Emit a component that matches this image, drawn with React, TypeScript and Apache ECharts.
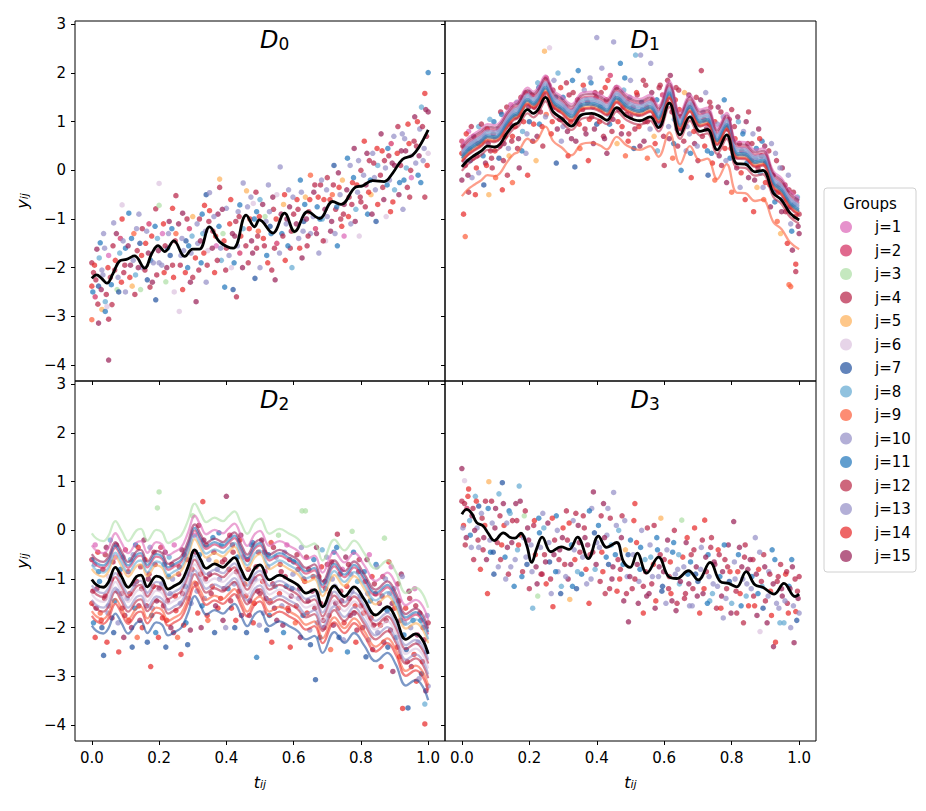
import React, { useEffect, useRef } from "react";
import * as echarts from "echarts";

const FONT = "DejaVu Sans";
const GROUP_LABELS = ["j=1","j=2","j=3","j=4","j=5","j=6","j=7","j=8","j=9","j=10","j=11","j=12","j=13","j=14","j=15"];
const GROUP_COLORS = ["#dd68b8","#d42f62","#aedfa6","#b8264a","#fdb15b","#dcc4df","#2554a1","#65aad3","#fc5f3d","#9590c8","#2478bd","#bb2b4a","#9590c8","#e72b2b","#9a2259"];
const X_TICKS = [0, 0.2, 0.4, 0.6, 0.8, 1.0];
const Y_TICKS = [-4, -3, -2, -1, 0, 1, 2, 3];
const PANEL_SUBS = ["0", "1", "2", "3"];

// black mean curves [t, y]
const D0_MEAN = [[0,-2.22],[0.014,-2.15],[0.029,-2.22],[0.045,-2.32],[0.063,-2.12],[0.083,-1.86],[0.103,-1.83],[0.127,-1.76],[0.157,-2.01],[0.179,-1.7],[0.197,-1.55],[0.217,-1.67],[0.244,-1.45],[0.276,-1.77],[0.3,-1.62],[0.32,-1.62],[0.35,-1.16],[0.38,-1.47],[0.42,-1.6],[0.459,-0.92],[0.484,-1.16],[0.498,-1.02],[0.538,-1.29],[0.573,-0.88],[0.603,-1.26],[0.642,-0.85],[0.677,-0.99],[0.716,-0.64],[0.741,-0.7],[0.785,-0.34],[0.805,-0.32],[0.835,-0.21],[0.869,-0.23],[0.894,-0.06],[0.924,0.23],[0.953,0.31],[0.973,0.48],[1,0.83]];
const D1_MEAN = [[0,0.07],[0.018,0.21],[0.038,0.31],[0.058,0.4],[0.076,0.5],[0.098,0.48],[0.113,0.54],[0.133,0.76],[0.153,0.93],[0.167,0.98],[0.195,1.25],[0.212,1.17],[0.226,1.25],[0.248,1.5],[0.271,1.2],[0.296,1.07],[0.325,0.91],[0.355,1.14],[0.385,1.17],[0.41,1.11],[0.43,1.03],[0.459,1.29],[0.489,1.11],[0.528,1.02],[0.558,1.1],[0.583,0.88],[0.615,1.38],[0.647,0.73],[0.676,1.1],[0.706,0.8],[0.728,0.84],[0.757,0.42],[0.785,0.73],[0.815,0.14],[0.84,0.13],[0.869,-0.03],[0.892,0],[0.924,-0.47],[0.948,-0.61],[0.973,-0.88],[1,-1.02]];
const D2_MEAN = [[0,-1.01],[0.014,-1.12],[0.034,-1.17],[0.049,-1.07],[0.07,-0.76],[0.088,-0.95],[0.108,-1.17],[0.133,-0.95],[0.146,-0.92],[0.165,-1.16],[0.192,-0.94],[0.209,-0.99],[0.227,-1.21],[0.246,-1.14],[0.266,-1.05],[0.286,-0.75],[0.306,-0.4],[0.324,-0.61],[0.34,-0.78],[0.365,-0.69],[0.39,-0.76],[0.405,-0.67],[0.424,-0.56],[0.444,-0.81],[0.462,-1.02],[0.484,-0.78],[0.5,-0.71],[0.528,-1.02],[0.558,-0.92],[0.587,-1.02],[0.612,-1.12],[0.637,-1.29],[0.662,-1.22],[0.686,-1.57],[0.721,-1.14],[0.751,-1.36],[0.78,-1.16],[0.81,-1.42],[0.844,-1.74],[0.879,-1.57],[0.904,-1.81],[0.934,-2.24],[0.963,-2.13],[0.983,-2.25],[1,-2.54]];
const D3_MEAN = [[0,0.33],[0.014,0.43],[0.029,0.35],[0.044,0.16],[0.063,0.09],[0.078,-0.06],[0.096,-0.21],[0.123,-0.05],[0.142,-0.14],[0.157,-0.16],[0.175,-0.06],[0.192,-0.3],[0.207,-0.66],[0.222,-0.37],[0.238,-0.14],[0.264,-0.44],[0.294,-0.34],[0.318,-0.39],[0.343,-0.14],[0.375,-0.58],[0.405,-0.12],[0.429,-0.35],[0.459,-0.25],[0.479,-0.64],[0.499,-0.76],[0.52,-0.47],[0.548,-0.88],[0.583,-0.55],[0.613,-0.95],[0.637,-0.99],[0.672,-0.83],[0.701,-1.02],[0.736,-0.66],[0.766,-1.05],[0.791,-1.09],[0.815,-1.16],[0.843,-0.85],[0.869,-1.12],[0.892,-1.17],[0.926,-1.31],[0.955,-1.09],[0.988,-1.36],[1,-1.31]];

// group offsets from the mean curve (j=1..15)
const D1_OFFSETS = [0.45, 0.35, 0.2, 0.1, 0.15, 0.3, 0.18, 0.28, -0.6, 0.25, 0.22, -0.08, 0.32, 0.12, 0.4];
const D2_OFFSETS = [0.7, 0.4, 0.95, -0.2, 0.22, -0.3, -0.95, 0.3, -0.65, -0.12, 0.45, -0.5, -0.42, -0.75, 0.52];

// scatter points [t, y, group index]
const D0_POINTS = [[0,-1.9,3],[0,-2.38,13],[0,-3.07,8],[0.005,-2.1,11],[0.01,-2.6,1],[0.015,-1.62,14],[0.02,-2.38,6],[0.02,-3.14,14],[0.025,-1.49,10],[0.03,-2.86,4],[0.03,-2.05,9],[0.035,-1.3,12],[0.04,-2.7,7],[0.04,-2.9,10],[0.045,-2.8,5],[0.05,-3.06,3],[0.05,-3.9,14],[0.05,-1.75,0],[0.055,-2.2,11],
[0.06,-2.76,11],[0.065,-1.08,12],[0.07,-1.85,13],[0.075,-2.45,2],[0.08,-2.5,6],[0.085,-1.4,1],[0.09,-0.71,5],[0.09,-1,13],[0.095,-2.1,3],[0.1,-1.6,10],[0.1,-2.5,12],
[0.11,-0.88,10],[0.115,-1.95,14],[0.12,-2.38,4],[0.125,-1.3,8],[0.13,-2.15,7],[0.135,-1.65,11],[0.14,-0.9,12],[0.145,-2.45,2],[0.15,-1.2,3],[0.15,-2,9],
[0.16,-1.5,13],[0.165,-2.25,6],[0.17,-1.1,1],[0.175,-1.85,10],[0.18,-2.3,14],[0.19,-0.79,3],[0.19,-2.66,6],[0.195,-1.4,7],[0.2,-0.27,5],[0.2,-0.72,2],[0.2,-1.9,12],
[0.21,-1.3,0],[0.215,-2.1,13],[0.22,-2.29,2],[0.225,-1.6,10],[0.23,-1.05,14],[0.24,-0.78,13],[0.24,-1.95,11],[0.245,-2.5,5],[0.25,-0.52,3],[0.25,-1.3,8],
[0.26,-2.9,5],[0.265,-1.75,9],[0.27,-0.88,14],[0.27,-2.45,13],[0.28,-1.45,6],[0.285,-2,10],[0.29,-1.2,1],[0.295,-1.7,12],[0.3,-2.2,11],[0.3,-0.95,4],
[0.31,-2.7,14],[0.315,-1.5,9],[0.32,-1,3],[0.325,-1.9,10],[0.33,-1.3,7],[0.335,-0.72,13],[0.34,-0.5,6],[0.34,-2.3,12],[0.345,-1.65,5],[0.35,-0.83,13],[0.35,-0.46,9],
[0.36,-1.25,11],[0.365,-2.1,13],[0.37,-1.55,0],[0.375,-0.9,14],[0.38,-0.18,4],[0.38,-0.35,3],[0.385,-1.85,7],[0.39,-1.3,2],[0.395,-2.4,10],[0.4,-0.78,9],[0.4,-1.6,11],
[0.41,-1.1,13],[0.415,-2,5],[0.42,-2.45,6],[0.425,-1.35,14],[0.43,-2.6,3],[0.435,-0.85,12],[0.44,-0.71,10],[0.44,-1.7,1],[0.45,-0.26,9],[0.45,-1.2,7],
[0.46,-0.42,4],[0.465,-1.9,11],[0.47,-1,13],[0.475,-1.45,14],[0.48,-0.68,5],[0.485,-2.22,6],[0.49,-0.85,10],[0.49,-1.6,3],[0.495,-1.25,8],[0.5,-2,12],[0.5,-0.6,7],
[0.51,-1.4,13],[0.515,-0.95,2],[0.52,-1.75,10],[0.525,-0.3,9],[0.53,-1.15,6],[0.535,-2.05,3],[0.54,-0.8,11],[0.545,-2.25,14],[0.55,-1.5,1],[0.55,-0.5,5],
[0.56,0.07,9],[0.565,-1.3,10],[0.57,-0.7,4],[0.575,-1.85,13],[0.58,-1,14],[0.585,-0.4,12],[0.59,-1.6,11],[0.595,-2,7],[0.6,-0.9,3],[0.6,-1.25,2],
[0.61,-0.6,13],[0.615,-1.4,9],[0.62,-0.2,10],[0.625,-1.8,14],[0.63,-1.05,6],[0.635,-0.55,4],[0.64,-1.55,3],[0.645,-0.85,11],[0.65,-0.1,8],[0.65,-1.3,12],
[0.66,-0.45,14],[0.665,-1.2,1],[0.67,-0.75,10],[0.675,-1.7,9],[0.68,-0.3,3],[0.685,-1,7],[0.69,-0.6,13],[0.695,-1.45,5],[0.7,-0.15,11],[0.7,-0.95,12],
[0.71,-1.25,14],[0.715,-0.5,8],[0.72,0.1,6],[0.725,-0.8,3],[0.73,-1.55,10],[0.735,-0.35,13],[0.74,-1,11],[0.745,-0.2,4],[0.75,-0.7,14],[0.75,-1.35,0],
[0.76,0.25,10],[0.765,-0.55,3],[0.77,-1.1,12],[0.775,-0.25,13],[0.78,0.45,14],[0.785,-0.8,7],[0.79,-0.45,9],[0.795,-1.35,5],[0.8,0,11],[0.8,-0.65,3],
[0.81,0.6,13],[0.815,-0.3,14],[0.82,-0.9,10],[0.825,0.2,3],[0.83,-0.5,4],[0.835,0.35,12],[0.84,-0.15,9],[0.845,-1.05,6],[0.85,0.1,7],[0.85,-0.7,13],
[0.86,0.75,14],[0.865,-0.35,11],[0.87,0.2,3],[0.875,-0.95,5],[0.88,0.45,10],[0.885,-0.2,12],[0.89,0.55,1],[0.895,-0.65,13],[0.9,0.1,14],[0.9,-0.4,7],
[0.91,0.9,3],[0.915,-0.25,10],[0.92,0.4,14],[0.925,-0.8,12],[0.93,0.65,9],[0.935,0.05,7],[0.94,0.95,13],[0.945,-0.55,11],[0.95,0.3,5],[0.95,-0.15,0],
[0.96,1.1,14],[0.965,0.5,3],[0.97,-0.1,10],[0.975,0.85,12],[0.98,1.3,7],[0.985,0.2,9],[0.99,1.58,13],[0.99,-0.55,11],[0.995,0.7,3],[1,2.01,10],[1,1.2,14],[1,0.35,5],
[0.003,-2.5,10],[0.008,-1.95,13],[0.012,-2.25,3],[0.018,-2.75,11],[0.022,-1.8,7],[0.028,-2.45,14],[0.033,-2.15,12],[0.038,-1.6,9],[0.043,-2.55,3],[0.048,-2,13],
[0.058,-2.35,10],[0.063,-1.55,3],[0.068,-2.05,11],[0.073,-1.3,14],[0.078,-2.2,12],[0.083,-1.7,7],[0.088,-2.3,13],[0.093,-1.45,9],[0.098,-1.95,3],
[0.108,-1.55,14],[0.113,-2.2,13],[0.118,-1.4,10],[0.123,-1.85,12],[0.128,-2.55,3],[0.133,-1.2,9],[0.138,-2,14],[0.143,-1.5,6],[0.148,-1.75,13],
[0.158,-2.05,3],[0.163,-1.25,12],[0.168,-1.7,14],[0.173,-2.4,11],[0.178,-1.35,13],[0.183,-1.9,9],[0.188,-1.15,10],[0.193,-2.15,3],[0.198,-1.65,14],
[0.208,-1.95,12],[0.213,-1.1,13],[0.218,-1.55,3],[0.223,-2,14],[0.228,-1.3,9],[0.233,-1.75,6],[0.238,-1.2,10],[0.243,-2.2,13],[0.248,-1.45,11],
[0.258,-1.1,14],[0.263,-1.95,3],[0.268,-1.4,12],[0.273,-1.65,9],[0.278,-2.1,13],[0.283,-1,3],[0.288,-1.55,10],[0.293,-2.3,14],[0.298,-1.35,7],
[0.308,-1.8,13],[0.313,-1.1,12],[0.318,-2.05,3],[0.323,-1.45,14],[0.328,-0.9,10],[0.333,-1.7,13],[0.338,-1.25,9],[0.343,-1.95,11],[0.348,-1.05,3],
[0.358,-1.6,14],[0.363,-0.95,12],[0.368,-1.35,13],[0.373,-1.85,3],[0.378,-1.15,10],[0.383,-1.6,9],[0.388,-0.8,14],[0.393,-1.45,13],[0.398,-2.05,3],
[0.408,-1.75,12],[0.413,-0.6,13],[0.418,-1.3,14],[0.423,-1.9,10],[0.428,-1.05,3],[0.433,-1.55,9],[0.438,-0.95,11],[0.443,-1.35,13],[0.448,-2,14],
[0.458,-1.55,3],[0.463,-0.75,12],[0.468,-1.2,13],[0.473,-0.55,9],[0.478,-1.7,14],[0.483,-1,10],[0.488,-0.45,3],[0.493,-1.35,11],[0.498,-0.95,13],
[0.508,-0.7,14],[0.513,-1.55,3],[0.518,-1.05,12],[0.523,-1.9,13],[0.528,-0.85,9],[0.533,-1.3,10],[0.538,-0.55,14],[0.543,-1.6,3],[0.548,-1,13],
[0.558,-1.7,12],[0.563,-0.9,14],[0.568,-1.35,3],[0.573,-0.5,13],[0.578,-1.1,9],[0.583,-1.55,10],[0.588,-0.75,14],[0.593,-1.25,3],[0.598,-0.55,12],
[0.608,-1.1,14],[0.613,-0.8,3],[0.618,-1.6,13],[0.623,-0.45,12],[0.628,-1.25,9],[0.633,-0.7,10],[0.638,-1,14],[0.643,-1.35,3],[0.648,-0.6,13],
[0.658,-0.95,12],[0.663,-0.3,3],[0.668,-1.3,14],[0.673,-0.55,13],[0.678,-1,10],[0.683,-0.2,9],[0.688,-1.45,3],[0.693,-0.8,14],[0.698,-0.4,12],
[0.708,-0.6,13],[0.713,-1.05,14],[0.718,-0.3,3],[0.723,-1.3,12],[0.728,-0.75,10],[0.733,-0.05,14],[0.738,-0.5,9],[0.743,-1.15,13],[0.748,-0.9,3],
[0.758,-0.4,14],[0.763,-0.95,13],[0.768,0.1,12],[0.773,-0.7,3],[0.778,-0.15,10],[0.783,-1.05,14],[0.788,-0.3,13],[0.793,0.2,9],[0.798,-0.55,3],
[0.808,-0.1,12],[0.813,-0.75,3],[0.818,0.35,14],[0.823,-0.45,13],[0.828,-0.2,10],[0.833,-0.9,14],[0.838,0.15,3],[0.843,-0.4,12],[0.848,0.45,13],
[0.858,-0.1,3],[0.863,0.4,13],[0.868,-0.6,14],[0.873,0.05,12],[0.878,-0.3,10],[0.883,0.3,3],[0.888,-0.85,13],[0.893,0.15,14],[0.898,0.7,9],
[0.908,0.35,13],[0.913,-0.5,14],[0.918,0.1,3],[0.923,0.75,12],[0.928,-0.2,10],[0.933,0.4,14],[0.938,-0.35,3],[0.943,0.55,13],[0.948,0,11],
[0.958,0.6,3],[0.963,0.15,12],[0.968,1,13],[0.973,0.3,14],[0.978,-0.25,10],[0.983,0.9,3],[0.988,0.45,12],[0.993,1.25,14],[0.997,0.1,13]];

const D1_POINTS = [[0,0.35,13],[0,-0.2,14],[0,0.6,1],[0.005,-0.9,13],[0.01,-1.36,8],[0.01,0.1,3],[0.015,0.45,10],[0.02,-0.45,11],[0.02,0.8,0],[0.025,0.2,6],[0.03,-0.15,12],[0.03,0.55,7],[0.035,0.7,14],[0.04,-0.5,13],[0.045,0.3,3],[0.05,0.9,7],[0.05,-0.05,9],
[0.06,0.6,1],[0.065,-0.3,6],[0.07,0.15,14],[0.075,0.85,13],[0.08,-0.5,4],[0.085,0.4,11],[0.09,0.05,3],[0.095,1,10],[0.1,-0.15,8],[0.1,0.65,12],
[0.11,0.25,6],[0.115,1.2,3],[0.12,-0.4,13],[0.125,0.55,14],[0.13,0.9,7],[0.135,-0.1,11],[0.14,0.3,4],[0.145,1.35,0],[0.15,0.7,13],[0.15,-0.25,8],
[0.16,1.1,10],[0.165,0.45,3],[0.17,0.05,14],[0.175,1.5,11],[0.18,0.8,7],[0.185,1.25,2],[0.19,0.35,12],[0.195,-0.1,13],[0.2,1,6],[0.2,1.6,9],
[0.21,0.6,14],[0.215,1.3,3],[0.22,0.2,4],[0.225,1.8,7],[0.23,0.95,10],[0.235,1.45,13],[0.24,0.5,11],[0.245,2.45,4],[0.25,1.9,1],[0.25,1.15,8],
[0.26,2.52,5],[0.265,0.75,13],[0.27,1.65,11],[0.275,1.3,14],[0.28,0.15,6],[0.285,2,7],[0.29,1.05,3],[0.295,0.6,12],[0.3,1.5,10],[0.3,0.9,9],
[0.31,1.8,3],[0.315,0.3,13],[0.32,1.2,7],[0.325,0.65,14],[0.33,1.6,11],[0.335,0.07,6],[0.34,1,12],[0.345,2.05,10],[0.35,1.35,14],[0.35,0.45,8],
[0.36,1.75,13],[0.365,0.85,3],[0.37,1.45,7],[0.375,0.2,13],[0.38,1.9,12],[0.385,1.1,11],[0.39,0.55,14],[0.395,1.6,3],[0.4,2.73,9],[0.4,0.95,6],
[0.41,1.3,10],[0.415,2.1,12],[0.42,0.7,3],[0.425,1.7,13],[0.43,0.35,14],[0.435,1.15,7],[0.44,1.95,1],[0.445,0.8,11],[0.45,2.64,12],[0.45,1.5,3],
[0.46,0.55,4],[0.465,1.25,14],[0.47,2.2,10],[0.475,0.9,13],[0.48,1.65,7],[0.485,0.3,8],[0.49,1.4,3],[0.495,0.75,11],[0.5,1.85,12],[0.5,1.1,14],
[0.51,0.45,6],[0.515,2.37,7],[0.52,1.55,3],[0.525,0.9,13],[0.53,2.37,9],[0.535,1.25,10],[0.54,0.6,14],[0.545,1.75,11],[0.55,0.25,8],[0.55,1,3],
[0.56,2.2,12],[0.565,1.45,13],[0.57,0.7,4],[0.575,1.2,14],[0.58,0.4,7],[0.585,1.7,3],[0.59,0.95,10],[0.595,1.55,1],[0.6,0.1,11],[0.6,1.3,13],
[0.61,1.85,3],[0.615,0.65,14],[0.62,1.5,12],[0.625,0.25,8],[0.63,1.05,7],[0.635,1.7,11],[0.64,0.5,3],[0.645,1.25,13],[0.65,0,10],[0.65,0.85,14],
[0.66,1.6,4],[0.665,0.4,12],[0.67,1.3,3],[0.675,0.75,9],[0.68,-0.15,13],[0.685,1.1,10],[0.69,0.55,14],[0.695,1.5,11],[0.7,0.2,3],[0.7,0.95,7],
[0.71,2.05,3],[0.715,1.2,12],[0.72,0.5,13],[0.725,0.85,14],[0.73,-0.1,6],[0.735,1.4,11],[0.74,0.35,10],[0.745,0.7,3],[0.75,1,13],[0.75,-0.2,8],
[0.76,1.3,14],[0.765,0.6,7],[0.77,0.1,3],[0.775,1.1,12],[0.78,0.45,13],[0.785,-0.25,14],[0.79,0.9,11],[0.795,0.25,10],[0.8,1.25,3],[0.8,-0.45,8],
[0.81,0.65,13],[0.815,0.05,14],[0.82,1,7],[0.825,-0.35,12],[0.83,0.4,3],[0.835,0.8,9],[0.84,-0.6,13],[0.845,0.15,10],[0.85,1.2,11],[0.85,-0.15,14],
[0.86,0.55,3],[0.865,-0.85,13],[0.87,0.25,12],[0.875,-0.35,4],[0.88,0.85,14],[0.885,-0.05,7],[0.89,0.6,10],[0.895,-0.6,8],[0.9,0.15,3],[0.9,-0.25,13],
[0.91,0.4,11],[0.915,-0.75,14],[0.92,-0.1,3],[0.925,-0.45,10],[0.93,0.35,12],[0.935,-1.05,8],[0.94,-0.3,13],[0.945,-1.3,4],[0.95,-0.6,7],[0.95,0.05,14],
[0.96,-0.85,3],[0.965,-1.5,13],[0.97,-0.4,11],[0.975,-1.1,12],[0.98,-1.64,14],[0.985,-0.7,10],[0.99,-2.08,3],[0.99,-1.93,13],[0.995,-0.55,7],[0.975,-2.39,8],[0.97,-2.35,8],[1,-1.3,14],[1,-0.9,11],
[0.003,0.5,3],[0.008,0.2,12],[0.013,0.75,13],[0.018,-0.1,14],[0.023,0.45,10],[0.028,0.9,3],[0.033,0.25,11],[0.038,0.6,12],[0.043,0.05,13],[0.048,0.55,14],
[0.058,0.95,3],[0.063,0.3,10],[0.068,0.7,12],[0.073,0.1,13],[0.078,0.55,14],[0.083,1.05,7],[0.088,0.25,3],[0.093,0.75,11],[0.098,0.4,13],
[0.108,0.85,12],[0.113,0.5,14],[0.118,1.15,10],[0.123,0.2,3],[0.128,0.7,13],[0.133,1.3,11],[0.138,0.45,12],[0.143,0.95,14],[0.148,0.6,3],
[0.158,0.9,13],[0.163,1.4,12],[0.168,0.65,14],[0.173,1.15,3],[0.178,0.4,10],[0.183,1,13],[0.188,1.6,11],[0.193,0.75,12],[0.198,1.3,14],
[0.208,1.55,3],[0.213,0.95,13],[0.218,1.35,12],[0.223,0.7,14],[0.228,1.7,10],[0.233,1.2,3],[0.238,0.9,13],[0.243,1.55,11],[0.248,1.1,12],
[0.258,1.75,14],[0.263,1.35,3],[0.268,1,13],[0.273,1.85,12],[0.278,1.5,10],[0.283,0.85,14],[0.288,1.25,3],[0.293,1.7,13],[0.298,1.05,11],
[0.308,1.3,12],[0.313,0.8,14],[0.318,1.55,3],[0.323,1,13],[0.328,1.85,10],[0.333,1.25,12],[0.338,0.6,14],[0.343,1.45,3],[0.348,0.95,13],
[0.358,1.25,11],[0.363,1.65,12],[0.368,0.75,14],[0.373,1.4,3],[0.378,1.05,13],[0.383,1.8,10],[0.388,1.3,12],[0.393,0.85,14],[0.398,1.5,3],
[0.408,1,13],[0.413,1.6,11],[0.418,1.25,12],[0.423,0.65,14],[0.428,1.45,3],[0.433,1.85,13],[0.438,0.95,10],[0.443,1.35,12],[0.448,1.05,14],
[0.458,1.7,3],[0.463,1,13],[0.468,1.45,12],[0.473,0.75,14],[0.478,1.3,11],[0.483,1.9,10],[0.488,1.15,3],[0.493,0.6,13],[0.498,1.5,12],
[0.508,1.3,14],[0.513,0.85,3],[0.518,1.6,13],[0.523,1.15,12],[0.528,0.5,14],[0.533,1.4,10],[0.538,1.85,11],[0.543,1,3],[0.548,1.3,13],
[0.558,0.85,12],[0.563,1.6,14],[0.568,1.1,3],[0.573,0.55,13],[0.578,1.45,10],[0.583,1,12],[0.588,1.75,11],[0.593,1.25,14],[0.598,0.7,3],
[0.608,1.4,13],[0.613,0.9,12],[0.618,1.95,14],[0.623,1.2,3],[0.628,0.55,10],[0.633,1.45,13],[0.638,0.85,12],[0.643,1.65,11],[0.648,1.1,14],
[0.658,0.6,3],[0.663,1.25,13],[0.668,0.9,12],[0.673,1.55,14],[0.678,0.35,10],[0.683,1.35,3],[0.688,0.8,13],[0.693,1.15,11],[0.698,0.5,12],
[0.708,1.45,14],[0.713,0.7,3],[0.718,1.05,13],[0.723,1.6,12],[0.728,0.4,10],[0.733,0.95,14],[0.738,1.3,3],[0.743,0.15,13],[0.748,0.75,11],
[0.758,0.95,12],[0.763,0.3,14],[0.768,1.2,3],[0.773,0.65,13],[0.778,1.45,10],[0.783,0.2,12],[0.788,0.85,14],[0.793,1.05,3],[0.798,0.45,13],
[0.808,0.9,11],[0.813,0.3,12],[0.818,1.1,14],[0.823,0.55,3],[0.828,-0.05,13],[0.833,0.75,10],[0.838,0.35,12],[0.843,1,14],[0.848,0.55,3],
[0.858,0.2,13],[0.863,0.75,12],[0.868,-0.2,14],[0.873,0.45,10],[0.878,0.05,3],[0.883,0.65,13],[0.888,0.3,11],[0.893,-0.35,12],[0.898,0.5,14],
[0.908,0.1,3],[0.913,-0.3,13],[0.918,0.55,12],[0.923,-0.1,14],[0.928,-0.65,10],[0.933,0.2,3],[0.938,-0.45,13],[0.943,0.05,12],[0.948,-0.85,14],
[0.958,-0.3,3],[0.963,-0.6,13],[0.968,-0.1,12],[0.973,-0.75,14],[0.978,-1.25,10],[0.983,-0.45,3],[0.988,-0.95,13],[0.993,-0.6,12],[0.997,-1.15,14]];

const D2_POINTS = [[0,-0.6,3],[0,-1.5,13],[0.005,-1.9,10],[0.01,-0.3,0],[0.01,-2.2,13],[0.015,-1.2,14],[0.02,-0.85,10],[0.025,-1.7,8],[0.03,-2,6],[0.035,-2.57,6],[0.04,-0.5,11],[0.04,-1.35,3],[0.045,-2.3,13],[0.05,-0.95,5],[0.05,-1.55,12],
[0.055,-0.2,7],[0.06,-1.8,14],[0.065,-2.1,6],[0.07,-0.55,0],[0.075,-1.25,9],[0.08,-2.5,13],[0.085,-0.8,10],[0.09,-1.6,3],[0.095,-2.2,14],[0.1,-0.4,1],
[0.105,-1.4,12],[0.11,-1.85,13],[0.115,-0.6,7],[0.12,-2.4,6],[0.125,-1.1,14],[0.13,-0.3,10],[0.135,-2.2,8],[0.14,-1.55,3],[0.145,-0.75,11],[0.15,-2,13],
[0.155,-0.2,14],[0.16,-1.3,5],[0.165,-2.3,6],[0.17,-0.9,3],[0.175,-2.8,13],[0.18,-1.6,12],[0.185,-0.45,11],[0.19,-2.1,10],[0.195,0.46,2],[0.2,0.79,2],
[0.2,-1.2,14],[0.205,-0.35,1],[0.21,-1.8,13],[0.215,-0.7,10],[0.22,-2.4,6],[0.225,-1.45,3],[0.23,-0.55,7],[0.235,-2,14],[0.24,-1,12],[0.245,-0.3,0],
[0.25,-1.65,13],[0.255,-2.2,8],[0.26,-0.75,11],[0.265,-2.55,13],[0.27,-1.3,3],[0.275,-0.5,14],[0.28,-1.9,10],[0.285,-2.35,6],[0.29,-0.9,9],[0.295,-1.5,12],
[0.3,0.3,2],[0.305,-0.1,0],[0.31,-1.1,3],[0.315,-1.7,13],[0.32,-0.5,10],[0.325,-2,14],[0.33,0.59,13],[0.335,-1.4,12],[0.34,-0.3,11],[0.345,-1.85,8],
[0.35,-0.9,14],[0.355,-1.3,3],[0.36,-0.15,10],[0.365,-2.1,6],[0.37,-0.65,4],[0.375,-1.6,13],[0.38,-1,12],[0.385,-0.3,7],[0.39,-1.85,14],[0.395,-0.6,3],
[0.4,0.7,14],[0.405,-1.2,10],[0.41,-0.1,1],[0.415,-1.6,13],[0.42,-0.45,11],[0.425,-2,6],[0.43,-0.85,3],[0.435,-1.35,12],[0.44,-0.2,13],[0.445,-1.75,14],
[0.45,-0.55,0],[0.455,-1.1,8],[0.46,-2.1,6],[0.465,-0.8,3],[0.47,-1.45,14],[0.475,-0.3,10],[0.48,-1.9,13],[0.485,-1,12],[0.49,-2.61,10],[0.495,-0.45,11],
[0.5,-1.3,3],[0.505,-0.2,14],[0.51,-1.7,12],[0.515,-0.85,1],[0.52,-2.05,6],[0.525,-0.5,10],[0.53,-1.45,13],[0.535,-2.3,13],[0.54,-0.35,3],[0.545,-1.15,7],
[0.55,-1.85,14],[0.555,-0.1,2],[0.56,-0.7,11],[0.565,-1.55,12],[0.57,-2.1,10],[0.575,-0.95,3],[0.58,-0.3,0],[0.585,-1.65,14],[0.59,-2.4,13],[0.595,-1.2,6],
[0.6,-0.65,10],[0.605,-1.9,8],[0.61,-0.5,3],[0.615,-1.4,12],[0.62,-2.2,14],[0.625,0.4,2],[0.63,-1,11],[0.635,0.4,2],[0.64,-1.7,13],[0.645,-0.8,3],
[0.65,-2.35,6],[0.655,-1.25,14],[0.66,-0.6,10],[0.665,-3.07,6],[0.67,-1.9,12],[0.675,-0.95,13],[0.68,-1.5,3],[0.685,-0.4,7],[0.69,-2,14],[0.695,-1.2,11],
[0.7,-0.7,3],[0.705,-1.75,13],[0.71,-2.45,8],[0.715,-1,12],[0.72,-0.45,10],[0.725,-1.5,14],[0.73,-0.08,3],[0.735,-2.2,6],[0.74,-1.25,11],[0.745,-0.8,0],
[0.75,-1.9,13],[0.755,-0.55,14],[0.76,-2.5,10],[0.765,-1.4,3],[0.77,-0.9,12],[0.774,-0.02,2],[0.78,-1.7,14],[0.785,-2.3,13],[0.79,-1.05,7],[0.795,-0.6,11],
[0.8,-1.55,3],[0.805,-2,14],[0.81,-0.85,10],[0.815,-2.6,6],[0.82,-1.3,12],[0.825,-0.5,0],[0.83,-1.8,13],[0.835,-2.45,14],[0.84,-1.1,3],[0.845,-0.7,10],
[0.85,-2.1,12],[0.855,-1.5,14],[0.86,-2.8,13],[0.865,-0.95,11],[0.87,-0.16,2],[0.875,-1.85,3],[0.88,-2.4,6],[0.885,-1.3,12],[0.89,-0.75,0],[0.895,-2.9,14],
[0.9,-1.6,13],[0.905,-2.2,10],[0.91,-1.1,3],[0.915,-2.6,13],[0.92,-0.9,14],[0.924,-3.66,13],[0.93,-1.9,12],[0.935,-2.45,6],[0.94,-3.65,6],[0.945,-1.4,3],
[0.95,-2.8,14],[0.955,-1.85,10],[0.96,-1.2,0],[0.965,-3.1,13],[0.97,-2.3,12],[0.975,-1.7,3],[0.98,-2.95,6],[0.985,-2,14],[0.99,-3.98,13],[0.99,-3.57,7],[0.995,-2.5,10],[1,-3.2,12],[1,-1.9,3],
[0.003,-1.25,3],[0.008,-0.7,12],[0.013,-1.6,14],[0.018,-0.45,13],[0.023,-1.05,10],[0.028,-1.85,13],[0.033,-0.8,3],[0.038,-1.4,11],[0.043,-0.35,14],[0.048,-1.7,12],
[0.058,-1,13],[0.063,-0.65,3],[0.068,-1.45,10],[0.073,-0.3,14],[0.078,-1.9,12],[0.083,-0.9,13],[0.088,-1.3,3],[0.093,-0.55,9],[0.098,-1.75,14],
[0.108,-0.85,3],[0.113,-1.3,13],[0.118,-2,14],[0.123,-0.5,12],[0.128,-1.6,10],[0.133,-1.05,3],[0.138,-0.35,13],[0.143,-1.85,14],[0.148,-1.2,11],
[0.158,-0.6,13],[0.163,-1.55,3],[0.168,-1,14],[0.173,-0.35,12],[0.178,-1.75,10],[0.183,-1.15,13],[0.188,-0.7,3],[0.193,-1.45,14],[0.198,-2.2,13],
[0.208,-1.1,12],[0.213,-1.55,3],[0.218,-0.45,14],[0.223,-1.85,13],[0.228,-0.95,10],[0.233,-1.3,12],[0.238,-0.7,3],[0.243,-2.1,14],[0.248,-1.35,13],
[0.258,-0.9,3],[0.263,-1.5,12],[0.268,-0.4,14],[0.273,-1.95,13],[0.278,-1.15,10],[0.283,-0.6,3],[0.288,-1.4,12],[0.293,-2.05,14],[0.298,-0.8,13],
[0.308,-0.45,14],[0.313,-1.25,12],[0.318,0.1,3],[0.323,-0.9,13],[0.328,-1.55,10],[0.333,-0.2,14],[0.338,-1,3],[0.343,-1.75,13],[0.348,-0.6,12],
[0.358,-1.15,13],[0.363,-0.45,3],[0.368,-1.55,14],[0.373,-0.8,12],[0.378,-0.05,10],[0.383,-1.4,13],[0.388,-0.65,3],[0.393,-1.2,14],[0.398,-2,12],
[0.408,-0.8,13],[0.413,-1.45,3],[0.418,-0.3,14],[0.423,-1.1,12],[0.428,-1.85,13],[0.433,-0.55,10],[0.438,-1.25,3],[0.443,-0.1,14],[0.448,-0.95,12],
[0.458,-1.35,13],[0.463,-0.6,3],[0.468,-1.75,14],[0.473,-1.05,12],[0.478,-0.25,10],[0.483,-1.5,13],[0.488,-0.75,3],[0.493,-1.25,14],[0.498,-1.95,12],
[0.508,-1.05,13],[0.513,-0.45,3],[0.518,-1.4,14],[0.523,-0.75,12],[0.528,-1.75,10],[0.533,-0.25,13],[0.538,-1.1,3],[0.543,-1.6,14],[0.548,-0.55,12],
[0.558,-1.3,13],[0.563,-0.85,3],[0.568,-1.95,14],[0.573,-0.45,12],[0.578,-1.15,10],[0.583,-1.6,13],[0.588,-0.6,3],[0.593,-1.35,14],[0.598,-0.9,12],
[0.608,-1.55,13],[0.613,-0.8,3],[0.618,-1.2,14],[0.623,-0.35,12],[0.628,-1.75,10],[0.633,-1.05,13],[0.638,-0.55,3],[0.643,-1.45,14],[0.648,-2.05,12],
[0.658,-0.95,13],[0.663,-1.6,3],[0.668,-0.35,14],[0.673,-1.3,12],[0.678,-2.2,10],[0.683,-0.75,13],[0.688,-1.85,3],[0.693,-1.05,14],[0.698,-0.55,12],
[0.708,-1.3,13],[0.713,-0.65,3],[0.718,-1.95,14],[0.723,-1.15,12],[0.728,-0.35,10],[0.733,-1.6,13],[0.738,-0.9,3],[0.743,-1.45,14],[0.748,-2.25,12],
[0.758,-1.15,13],[0.763,-0.7,3],[0.768,-1.75,14],[0.773,-1.25,12],[0.778,-0.45,10],[0.783,-1.55,13],[0.788,-2.05,3],[0.793,-0.85,14],[0.798,-1.35,12],
[0.808,-1.7,13],[0.813,-1.05,3],[0.818,-0.6,14],[0.823,-2.25,12],[0.828,-1.45,10],[0.833,-0.95,13],[0.838,-1.95,3],[0.843,-1.3,14],[0.848,-0.75,12],
[0.858,-1.95,13],[0.863,-1.35,3],[0.868,-2.3,14],[0.873,-1,12],[0.878,-1.65,10],[0.883,-0.65,13],[0.888,-2.05,3],[0.893,-1.5,14],[0.898,-1.2,12],
[0.908,-2.4,13],[0.913,-1.45,3],[0.918,-1.85,14],[0.923,-0.95,12],[0.928,-2.15,10],[0.933,-1.6,13],[0.938,-2.7,3],[0.943,-1.25,14],[0.948,-2,12],
[0.958,-2.55,13],[0.963,-1.55,3],[0.968,-2.15,14],[0.973,-3.05,12],[0.978,-1.85,10],[0.983,-2.7,13],[0.988,-2.25,3],[0.993,-3.3,14],[0.997,-1.75,12]];

const D3_POINTS = [[0,1.27,14],[0,0.6,3],[0.005,0.1,13],[0.008,1.02,5],[0.01,-0.3,11],[0.015,0.45,1],[0.02,0.85,13],[0.025,-0.1,10],[0.03,0.3,14],[0.035,-0.6,3],[0.04,0.7,7],[0.045,0.05,12],[0.05,-0.35,9],[0.05,0.5,6],
[0.055,-0.8,13],[0.06,0.25,11],[0.065,-0.15,14],[0.07,0.6,3],[0.076,-1.3,13],[0.08,1,4],[0.085,-0.45,10],[0.09,0.15,12],[0.095,-0.9,6],[0.1,0.45,14],
[0.105,-0.25,3],[0.11,0.75,7],[0.115,-0.6,11],[0.12,0.98,6],[0.125,0.1,13],[0.13,-1,9],[0.135,-0.35,14],[0.14,0.4,10],[0.145,-0.75,12],[0.15,0.2,3],
[0.155,-1.15,10],[0.16,0.55,14],[0.165,-0.4,7],[0.17,0.91,7],[0.175,-0.1,13],[0.18,-0.85,11],[0.185,0.3,2],[0.19,-0.55,12],[0.195,0.05,14],[0.2,-1.2,3],
[0.205,-0.3,9],[0.21,-1.6,7],[0.215,0.2,13],[0.22,-0.75,14],[0.225,-1.35,2],[0.23,-0.05,10],[0.235,-0.9,3],[0.24,0.35,12],[0.245,-0.5,11],[0.25,-1.1,13],
[0.255,0.15,14],[0.26,-0.65,6],[0.265,-1.3,9],[0.27,-1.57,13],[0.275,-0.2,3],[0.28,0.3,10],[0.285,-0.85,12],[0.29,-0.4,14],[0.295,-1.15,7],[0.3,0.05,13],
[0.305,-0.7,11],[0.31,0.4,3],[0.315,-1,14],[0.32,-1.42,4],[0.325,-0.3,10],[0.33,0.2,12],[0.335,-0.6,13],[0.34,-1.2,6],[0.345,0.1,14],[0.35,-0.45,3],
[0.355,-0.9,10],[0.36,0.3,11],[0.365,-0.15,14],[0.37,-1.1,12],[0.377,-1.5,13],[0.38,-0.5,3],[0.385,0.45,9],[0.39,0.79,14],[0.395,-0.8,7],[0.4,-0.25,12],
[0.405,0.1,10],[0.41,-1.05,3],[0.415,-0.45,13],[0.42,0.55,14],[0.425,-1.3,11],[0.43,-0.1,12],[0.435,-0.7,6],[0.44,0.25,3],[0.445,-1,14],[0.45,0.78,12],
[0.455,-0.5,10],[0.46,-1.25,13],[0.465,0,7],[0.47,-0.8,3],[0.475,0.3,11],[0.48,-1.45,14],[0.485,-0.4,4],[0.49,-0.95,12],[0.494,-1.88,14],[0.5,-0.2,10],
[0.505,-1.2,3],[0.51,0.2,13],[0.513,0.55,13],[0.52,-0.7,14],[0.525,-1.05,12],[0.53,-0.35,10],[0.538,-1.7,13],[0.545,-0.85,3],[0.55,0.05,11],[0.555,-1.3,14],
[0.56,-0.55,7],[0.565,-0.95,12],[0.57,0.1,3],[0.575,-1.45,13],[0.58,-0.4,10],[0.585,-0.75,14],[0.59,0.25,4],[0.595,-1.15,6],[0.6,-0.6,3],[0.605,-1.5,12],
[0.61,-0.2,14],[0.615,-0.95,11],[0.62,-1.3,13],[0.625,-0.45,10],[0.63,0,3],[0.635,-1.65,14],[0.64,-0.8,12],[0.645,-1.1,7],[0.652,0.21,2],[0.655,-0.55,13],
[0.66,-1.4,3],[0.665,-0.25,14],[0.67,-0.9,10],[0.675,-1.55,12],[0.68,-0.5,11],[0.685,-1.2,3],[0.69,0.05,13],[0.695,-0.75,14],[0.7,-1.05,6],[0.705,-1.7,13],
[0.71,-0.35,12],[0.715,-1.3,14],[0.72,0.21,13],[0.725,-0.85,3],[0.73,-0.5,10],[0.735,-1.45,7],[0.74,-0.15,11],[0.745,-1.1,12],[0.75,-0.7,14],[0.755,-1.6,3],
[0.76,-0.4,13],[0.765,-0.95,10],[0.77,-1.35,14],[0.775,-1.8,12],[0.78,-0.6,3],[0.785,-1.2,11],[0.79,-0.3,14],[0.795,-0.85,13],[0.8,-1.5,7],[0.806,0.18,14],
[0.81,-1,12],[0.815,-1.7,3],[0.82,-0.5,10],[0.825,-1.3,13],[0.83,-0.75,14],[0.835,-1.9,11],[0.84,-0.3,3],[0.845,-1.1,12],[0.85,-1.55,13],[0.855,-0.6,14],
[0.86,-0.95,10],[0.865,-1.35,3],[0.87,-0.15,12],[0.875,-1.75,14],[0.88,-0.8,13],[0.884,-2.08,5],[0.89,-1.15,7],[0.895,-0.5,11],[0.9,-1.45,3],[0.905,-1.9,14],
[0.91,-0.85,12],[0.915,-1.25,13],[0.92,-0.4,10],[0.924,-2.39,14],[0.93,-2.3,13],[0.935,-1.05,3],[0.94,-1.6,12],[0.945,-0.7,11],[0.95,-1.35,14],[0.955,-1.9,7],
[0.96,-0.9,13],[0.965,-1.5,3],[0.97,-1.15,10],[0.975,-2,12],[0.98,-0.75,14],[0.985,-2.31,14],[0.99,-1.67,13],[0.995,-1.25,11],[1,-0.95,3],[1,-1.7,12],
[0.003,0.05,12],[0.008,0.55,3],[0.013,-0.15,14],[0.018,0.7,13],[0.023,0.2,7],[0.028,-0.35,12],[0.033,0.45,3],[0.038,0,14],[0.043,0.6,13],[0.048,-0.2,11],
[0.058,0.35,12],[0.063,-0.4,3],[0.068,0.1,13],[0.073,-0.6,14],[0.078,0.45,10],[0.083,-0.2,12],[0.088,0.6,3],[0.093,-0.45,6],[0.098,0.05,14],
[0.108,-0.75,12],[0.113,0.3,3],[0.118,-0.3,13],[0.123,0.55,14],[0.128,-0.55,10],[0.133,0.15,12],[0.138,-0.9,3],[0.143,0.35,7],[0.148,-0.25,14],
[0.158,-0.6,12],[0.163,0.2,3],[0.168,-0.3,13],[0.173,0.6,14],[0.178,-0.95,10],[0.183,-0.15,12],[0.188,0.4,3],[0.193,-0.7,6],[0.198,-0.2,14],
[0.208,-0.85,12],[0.213,0.1,3],[0.218,-0.5,13],[0.223,-1.1,14],[0.228,0.25,10],[0.233,-0.35,12],[0.238,-0.9,3],[0.243,0.05,7],[0.248,-0.65,14],
[0.258,-0.25,12],[0.263,-1,3],[0.268,0.25,13],[0.273,-0.5,14],[0.278,-0.85,10],[0.283,0,12],[0.288,-0.6,3],[0.293,-1.3,6],[0.298,-0.15,14],
[0.308,-0.95,12],[0.313,-0.2,3],[0.318,0.15,13],[0.323,-0.7,14],[0.328,-1.15,10],[0.333,-0.4,12],[0.338,0.35,3],[0.343,-0.85,7],[0.348,-0.25,14],
[0.358,-0.55,12],[0.363,0.05,3],[0.368,-0.8,13],[0.373,-0.3,14],[0.378,0.4,10],[0.383,-1,12],[0.388,-0.45,3],[0.393,-0.05,6],[0.398,-0.7,14],
[0.408,-0.35,12],[0.413,0.3,3],[0.418,-0.85,13],[0.423,-0.15,14],[0.428,-0.55,10],[0.433,0.45,12],[0.438,-1.2,3],[0.443,-0.3,7],[0.448,-0.75,14],
[0.458,0.1,12],[0.463,-0.6,3],[0.468,-1,13],[0.473,-0.15,14],[0.478,-0.7,10],[0.483,0.2,12],[0.488,-1.3,3],[0.493,-0.5,6],[0.498,-0.95,14],
[0.508,-0.5,12],[0.513,-1,3],[0.518,-0.25,13],[0.523,-1.5,14],[0.528,-0.8,10],[0.533,0,12],[0.538,-1.15,3],[0.543,-0.6,7],[0.548,-1.35,14],
[0.558,-0.3,12],[0.563,-1.1,3],[0.568,-0.7,13],[0.573,-1.6,14],[0.578,-0.15,10],[0.583,-0.95,12],[0.588,-0.5,3],[0.593,-1.25,6],[0.598,-0.85,14],
[0.608,-0.4,12],[0.613,-1.2,3],[0.618,-0.65,13],[0.623,-1.45,14],[0.628,-0.25,10],[0.633,-0.9,12],[0.638,-1.5,3],[0.643,-0.5,7],[0.648,-1.05,14],
[0.658,-0.75,12],[0.663,-1.3,3],[0.668,-0.15,13],[0.673,-1.1,14],[0.678,-0.65,10],[0.683,-1.55,12],[0.688,-0.4,3],[0.693,-0.9,6],[0.698,-1.35,14],
[0.708,-0.8,12],[0.713,-0.2,3],[0.718,-1.2,13],[0.723,-0.55,14],[0.728,-1.5,10],[0.733,-0.95,12],[0.738,-0.35,3],[0.743,-1.3,7],[0.748,-0.65,14],
[0.758,-1.15,12],[0.763,-0.5,3],[0.768,-1.6,13],[0.773,-0.85,14],[0.778,-0.3,10],[0.783,-1.4,12],[0.788,-0.75,3],[0.793,-1.05,6],[0.798,-1.7,14],
[0.808,-0.65,12],[0.813,-1.25,3],[0.818,-0.85,13],[0.823,-0.35,14],[0.828,-1.55,10],[0.833,-1,12],[0.838,-0.55,3],[0.843,-1.35,7],[0.848,-0.8,14],
[0.858,-1.2,12],[0.863,-0.6,3],[0.868,-1.55,13],[0.873,-0.9,14],[0.878,-1.3,10],[0.883,-0.45,12],[0.888,-1.05,3],[0.893,-1.6,6],[0.898,-0.75,14],
[0.908,-1.35,12],[0.913,-0.9,3],[0.918,-1.75,13],[0.923,-1.1,14],[0.928,-0.6,10],[0.933,-1.5,12],[0.938,-0.95,3],[0.943,-1.9,7],[0.948,-1.2,14],
[0.958,-1.45,12],[0.963,-0.85,3],[0.968,-1.7,13],[0.973,-1.2,14],[0.978,-0.6,10],[0.983,-1.55,12],[0.988,-1,3],[0.993,-1.85,6],[0.997,-1.4,14]];

const PANELS = [
  { mean: D0_MEAN, points: D0_POINTS, offsets: null as number[] | null },
  { mean: D1_MEAN, points: D1_POINTS, offsets: D1_OFFSETS },
  { mean: D2_MEAN, points: D2_POINTS, offsets: D2_OFFSETS },
  { mean: D3_MEAN, points: D3_POINTS, offsets: null as number[] | null },
];

const GRID_BOXES = [
  { left: 75, top: 21, width: 370, height: 360 },
  { left: 445, top: 21, width: 371, height: 360 },
  { left: 75, top: 381, width: 370, height: 360 },
  { left: 445, top: 381, width: 371, height: 360 },
];

const fmtY = (v: number) => (v < 0 ? "\u2212" + Math.abs(v) : String(v));

const subRich = (big: number, small: number) => ({
  a: { fontSize: big, fontStyle: "italic", fontWeight: "normal", fontFamily: FONT, color: "#000", lineHeight: big + 5, verticalAlign: "bottom" },
  b: { fontSize: small, fontStyle: "italic", fontWeight: "normal", fontFamily: FONT, color: "#000", lineHeight: small + 1, verticalAlign: "bottom" },
});

function buildOption() {
  const grid = GRID_BOXES.map((g) => ({ ...g, show: true, borderColor: "#000", borderWidth: 1, backgroundColor: "transparent" }));
  const xAxis = GRID_BOXES.map((_, i) => ({
    type: "value",
    gridIndex: i,
    min: -0.05,
    max: 1.05,
    axisLine: { show: false, onZero: false },
    splitLine: { show: false },
    axisTick: { show: true, inside: false, customValues: X_TICKS, length: 4, lineStyle: { color: "#000" } },
    axisLabel: { show: i >= 2, customValues: X_TICKS, formatter: (v: number) => v.toFixed(1), color: "#000", fontSize: 15, fontFamily: FONT, margin: 9 },
    name: i >= 2 ? "{a|t}{b|ij}" : "",
    nameLocation: "middle",
    nameGap: 28,
    nameTextStyle: { rich: subRich(16, 11) },
  }));
  const yAxis = GRID_BOXES.map((_, i) => ({
    type: "value",
    gridIndex: i,
    min: -4.33,
    max: 3.07,
    axisLine: { show: false, onZero: false },
    splitLine: { show: false },
    axisTick: { show: true, inside: false, customValues: Y_TICKS, length: 4, lineStyle: { color: "#000" } },
    axisLabel: { show: i % 2 === 0, customValues: Y_TICKS, formatter: fmtY, color: "#000", fontSize: 15, fontFamily: FONT, margin: 9 },
    name: i % 2 === 0 ? "{a|y}{b|ij}" : "",
    nameLocation: "middle",
    nameGap: 45,
    nameRotate: 90,
    nameTextStyle: { rich: subRich(16, 11) },
  }));

  const series: any[] = [];
  PANELS.forEach((p, i) => {
    series.push({
      type: "scatter",
      xAxisIndex: i,
      yAxisIndex: i,
      data: p.points,
      symbolSize: 5.5,
      z: 2,
      itemStyle: { color: (d: any) => GROUP_COLORS[d.value[2]], opacity: 0.72 },
      silent: true,
    });
    if (p.offsets) {
      p.offsets.forEach((off, g) => {
        series.push({
          type: "line",
          xAxisIndex: i,
          yAxisIndex: i,
          data: p.mean.map(([t, y]) => [t, y + off]),
          smooth: 0.4,
          showSymbol: false,
          z: 3,
          lineStyle: { color: GROUP_COLORS[g], width: 2.3, opacity: 0.6 },
          silent: true,
        });
      });
    }
    series.push({
      type: "line",
      xAxisIndex: i,
      yAxisIndex: i,
      data: p.mean,
      smooth: 0.4,
      showSymbol: false,
      z: 5,
      lineStyle: { color: "#000", width: 2.8 },
      silent: true,
    });
  });

  const title = PANEL_SUBS.map((s, i) => ({
    text: `{d|D}{s|${s}}`,
    left: GRID_BOXES[i].left + GRID_BOXES[i].width / 2,
    top: GRID_BOXES[i].top + 1,
    padding: 0,
    textStyle: {
      fontWeight: "normal",
      rich: {
        d: { fontSize: 24, fontStyle: "italic", fontWeight: "normal", fontFamily: FONT, color: "#000", lineHeight: 30, verticalAlign: "bottom" },
        s: { fontSize: 17, fontWeight: "normal", fontFamily: FONT, color: "#000", lineHeight: 20, verticalAlign: "bottom" },
      },
    },
  }));

  const graphic: any[] = [
    { type: "rect", shape: { x: 824, y: 188, width: 92, height: 384, r: 3 }, style: { fill: "#fff", stroke: "#d0d0d0", lineWidth: 1 }, z: 100 },
    { type: "text", x: 870, y: 204, style: { text: "Groups", fontSize: 15, fontFamily: FONT, fill: "#000", align: "center", verticalAlign: "middle" }, z: 101 },
  ];
  GROUP_LABELS.forEach((lab, i) => {
    const cy = 227 + 23.5 * i;
    graphic.push({ type: "circle", shape: { cx: 846, cy, r: 6 }, style: { fill: GROUP_COLORS[i], opacity: 0.72 }, z: 101 });
    graphic.push({ type: "text", x: 875, y: cy, style: { text: lab, fontSize: 15, fontFamily: FONT, fill: "#000", align: "left", verticalAlign: "middle" }, z: 101 });
  });

  return { animation: false, backgroundColor: "#fff", title, grid, xAxis, yAxis, series, graphic };
}

export default function App() {
  const ref = useRef<HTMLDivElement>(null);
  useEffect(() => {
    if (!ref.current) return;
    const chart = echarts.init(ref.current, null, { renderer: "svg" });
    chart.setOption(buildOption() as any);
    return () => chart.dispose();
  }, []);
  return <div ref={ref} style={{ position: "fixed", left: 0, top: 0, width: 926, height: 811, background: "#fff" }} />;
}
